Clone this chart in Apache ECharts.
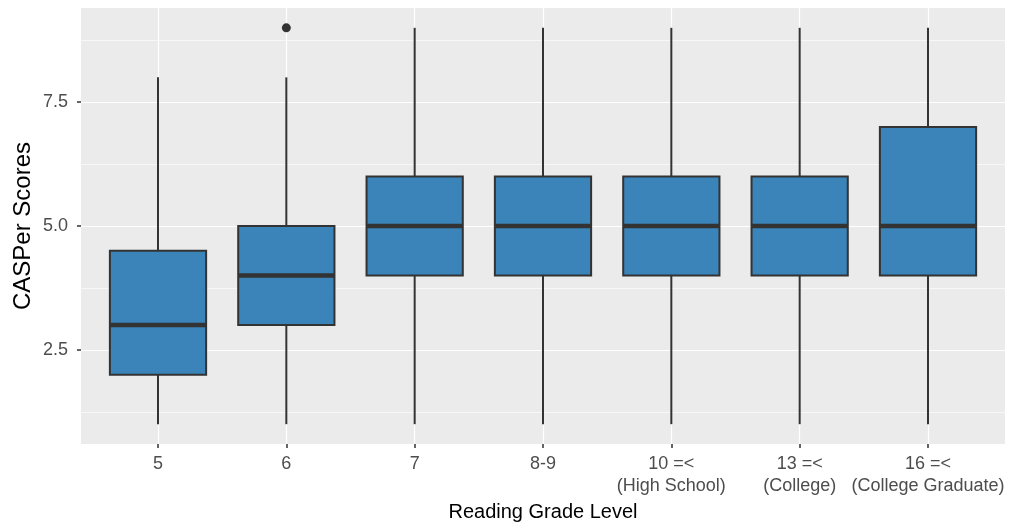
<!DOCTYPE html>
<html><head><meta charset="utf-8">
<script src="https://cdn.jsdelivr.net/npm/echarts@6/dist/echarts.min.js"></script>
<style>html,body{margin:0;padding:0;background:#fff}#c{width:1015px;height:525px}</style>
</head><body><div id="c"></div>
<script>
// ---- data ----
const categories = ['5', '6', '7', '8-9', '10 =<\n(High School)', '13 =<\n(College)', '16 =<\n(College Graduate)'];
const whiskerLow  = [1, 1, 1, 1, 1, 1, 1];
const q1          = [2, 3, 4, 4, 4, 4, 4];
const median      = [3, 4, 5, 5, 5, 5, 5];
const q3          = [4.5, 5, 6, 6, 6, 6, 7];
const whiskerHigh = [8, 8, 9, 9, 9, 9, 9];
const outlierCategory = ['6'];
const outlierValue    = [9];
const yMajorTicks = [2.5, 5, 7.5];
const yMinorTicks = [1.25, 3.75, 6.25, 8.75];
const xTicks = categories.map((c, i) => i + 1);

// ---- build ----
const boxData = categories.map((c, i) => [i + 1, whiskerLow[i], q1[i], median[i], q3[i], whiskerHigh[i]]);
const outlierData = outlierCategory.map((c, i) => [categories.indexOf(c) + 1, outlierValue[i]]);

const INK = '#333333';
function renderBox(params, api) {
  const x = api.value(0);
  const pLow = api.coord([x, api.value(1)]);
  const pQ1 = api.coord([x, api.value(2)]);
  const pMed = api.coord([x, api.value(3)]);
  const pQ3 = api.coord([x, api.value(4)]);
  const pHigh = api.coord([x, api.value(5)]);
  const w = api.size([0.75, 0])[0];
  const cx = pLow[0];
  const left = cx - w / 2;
  return {
    type: 'group',
    children: [
      { type: 'line', shape: { x1: cx, y1: pQ3[1], x2: cx, y2: pHigh[1] }, style: { stroke: INK, lineWidth: 2 } },
      { type: 'line', shape: { x1: cx, y1: pQ1[1], x2: cx, y2: pLow[1] }, style: { stroke: INK, lineWidth: 2 } },
      { type: 'rect', shape: { x: left, y: pQ3[1], width: w, height: pQ1[1] - pQ3[1] }, style: { fill: '#3b84ba', stroke: INK, lineWidth: 2 } },
      { type: 'line', shape: { x1: left, y1: pMed[1], x2: left + w, y2: pMed[1] }, style: { stroke: INK, lineWidth: 4.5 } }
    ]
  };
}

const chart = echarts.init(document.getElementById('c'), null, { renderer: 'canvas' });
const FONT = 'Liberation Sans, Arial, sans-serif';
chart.setOption({
  animation: false,
  backgroundColor: '#ffffff',
  grid: { left: 81, right: 10, top: 8, bottom: 81, show: true, backgroundColor: '#EBEBEB', borderWidth: 0, outerBoundsMode: 'none', containLabel: false },
  xAxis: {
    type: 'value', min: 0.4, max: 7.6,
    name: 'Reading Grade Level', nameLocation: 'middle', nameGap: 58, nameMoveOverlap: false,
    nameTextStyle: { color: '#000', fontSize: 20, fontFamily: FONT },
    axisLine: { show: false },
    axisTick: { show: true, customValues: xTicks, length: 4, lineStyle: { color: INK, width: 1.5 } },
    axisLabel: {
      customValues: xTicks, color: '#4D4D4D', fontSize: 18, fontFamily: FONT, lineHeight: 22, margin: 9,
      formatter: v => categories[Math.round(v) - 1]
    },
    splitLine: { show: true, lineStyle: { color: '#ffffff', width: 1.2 } }
  },
  yAxis: [
    {
      type: 'value', min: 0.6, max: 9.4,
      name: 'CASPer Scores', nameLocation: 'middle', nameGap: 46, nameRotate: 90, nameMoveOverlap: false,
      nameTextStyle: { color: '#000', fontSize: 24, fontFamily: FONT },
      axisLine: { show: false },
      axisTick: { show: true, customValues: yMajorTicks, length: 4, lineStyle: { color: INK, width: 1.5 } },
      axisLabel: { customValues: yMajorTicks, color: '#4D4D4D', fontSize: 18, fontFamily: FONT, margin: 13, formatter: v => v.toFixed(1) },
      splitLine: { show: true, lineStyle: { color: '#ffffff', width: 1.2 } }
    },
    {
      type: 'value', min: 0.6, max: 9.4, position: 'left',
      axisLine: { show: false }, axisTick: { show: false, customValues: yMinorTicks },
      axisLabel: { show: false, customValues: yMinorTicks },
      splitLine: { show: true, lineStyle: { color: '#ffffff', width: 0.6 } }
    }
  ],
  series: [
    { type: 'custom', renderItem: renderBox, data: boxData, encode: { x: 0, y: [1, 2, 3, 4, 5] }, z: 3 },
    { type: 'scatter', data: outlierData, symbolSize: 9, itemStyle: { color: INK, opacity: 1 }, z: 4 }
  ]
});
</script></body></html>
